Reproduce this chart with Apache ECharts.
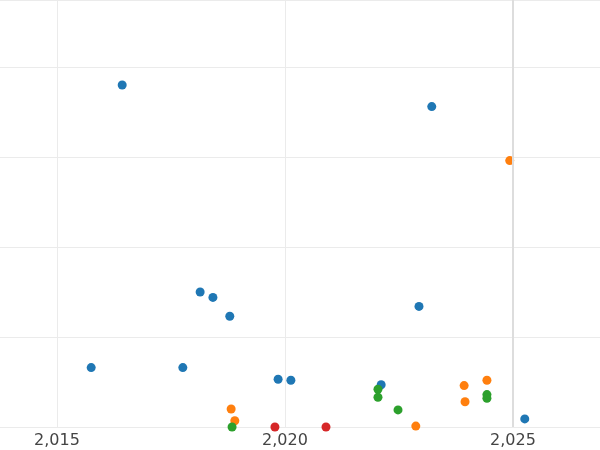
<!DOCTYPE html>
<html>
<head>
<meta charset="utf-8">
<script src="https://cdn.jsdelivr.net/npm/echarts@6/dist/echarts.min.js"></script>
<style>html,body{margin:0;padding:0;background:#fff}#chart{width:600px;height:450px}</style>
</head>
<body>
<div id="chart"></div>
<script>
var xTicks = [2015, 2020, 2025];
var blue = [[2016.43, 3.80], [2023.22, 3.56], [2018.14, 1.50], [2018.42, 1.44], [2018.79, 1.23], [2022.94, 1.34],
    [2015.75, 0.66], [2017.76, 0.66], [2019.85, 0.53], [2020.13, 0.52], [2022.11, 0.47], [2025.26, 0.09]];
var orange = [[2024.93, 2.96], [2018.82, 0.20], [2018.90, 0.07], [2023.93, 0.46], [2024.43, 0.52], [2023.95, 0.28], [2022.87, 0.01]];
var green = [[2022.04, 0.42], [2022.04, 0.33], [2022.48, 0.19], [2024.43, 0.36], [2024.43, 0.32], [2018.84, 0]];
var red = [[2019.78, 0], [2020.90, 0]];

var chart = echarts.init(document.getElementById('chart'), null, { renderer: 'canvas' });

let mk = (data, color) => ({
    type: 'scatter',
    data: data,
    symbolSize: 9,
    clip: true,
    itemStyle: { color: color, opacity: 1 }
});

var s0 = mk(blue, '#1f77b4');
s0.markLine = {
    silent: true, symbol: 'none', label: { show: false },
    lineStyle: { color: '#ddd', type: 'solid', width: 2 },
    data: [{ xAxis: 2025 }]
};

var option = {
    animation: false,
    grid: { left: 0, right: 0, top: 0, bottom: 23 },
    xAxis: {
        type: 'value', min: 2013.75, max: 2026.91,
        axisLine: { show: false },
        axisTick: { show: false, customValues: xTicks },
        axisLabel: { customValues: xTicks, color: '#444', fontSize: 16, fontFamily: 'DejaVu Sans', margin: 6 },
        splitLine: { show: true, lineStyle: { color: '#ebebeb' } }
    },
    yAxis: {
        type: 'value', min: 0, max: 4.744, interval: 1,
        axisLine: { show: false }, axisTick: { show: false }, axisLabel: { show: false },
        splitLine: { show: true, lineStyle: { color: '#ebebeb' } }
    },
    series: [s0, mk(orange, '#ff7f0e'), mk(green, '#2ca02c'), mk(red, '#d62728')]
};
chart.setOption(option);
</script>
</body>
</html>
